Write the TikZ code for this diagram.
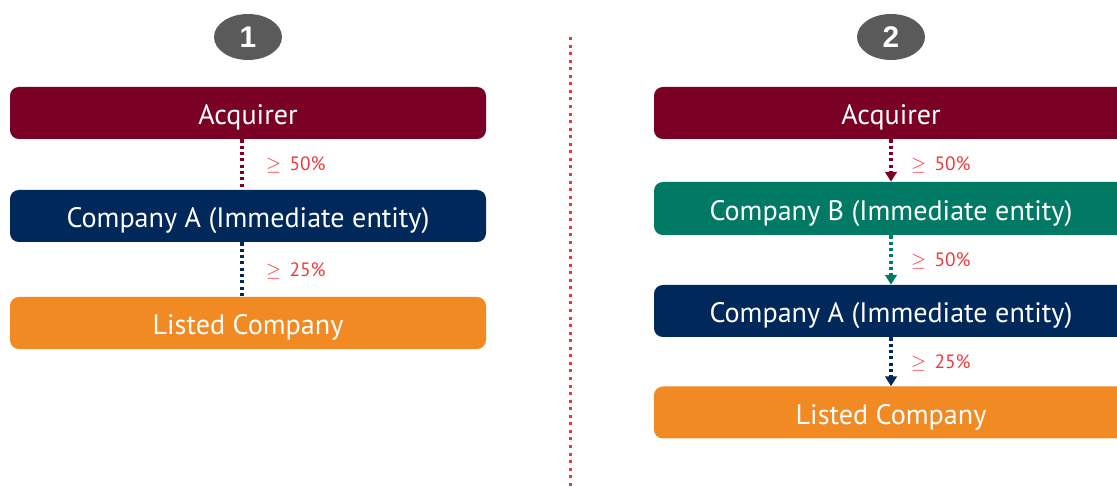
\documentclass[tikz,border=0pt]{standalone}
\usepackage{fontspec}
\setmainfont{PT Sans}
\newfontfamily\badgefont{Liberation Sans}
\usetikzlibrary{shapes.geometric,arrows.meta}
\definecolor{acqred}{HTML}{7A0026}
\definecolor{coblue}{HTML}{00285A}
\definecolor{cogreen}{HTML}{007A64}
\definecolor{listorange}{HTML}{F28A24}
\definecolor{pctred}{HTML}{EE3A3F}
\definecolor{badgegray}{HTML}{5A5A5A}
\definecolor{splitred}{HTML}{F0323C}
\tikzset{
  entity/.style={rounded corners=5pt, minimum height=1.04cm, text=white,
    font=\fontsize{16}{18}\selectfont, inner sep=0pt, text height=13.5pt, text depth=0pt},
  badge/.style={ellipse, fill=badgegray, minimum width=1.36cm, minimum height=0.92cm,
    text=white, font=\badgefont\bfseries\fontsize{17}{20}\selectfont, inner sep=0pt},
  pct/.style={text=pctred, font=\fontsize{11}{12}\selectfont, anchor=west},
  link/.style={line width=1.8pt, dash pattern=on 1.8pt off 1.8pt},
  linkarrow/.style={link, -{Triangle[width=6.5pt,length=5.5pt]}}
}
\begin{document}
\begin{tikzpicture}
  \useasboundingbox (0,0) rectangle (22.34,-9.74);
  %divider
  \coordinate (divtop) at (11.4,-0.74);
  \coordinate (divbot) at (11.4,-9.74);
  \draw[splitred, line width=1.7pt, dash pattern=on 1.7pt off 2.6pt] (divtop) -- (divbot);

  %first structure
  \node[badge] (badge1) at (4.96,-0.74) {1};
  \node[entity, fill=acqred, minimum width=9.52cm] (acq1) at (4.96,-2.26) {Acquirer};
  \node[entity, fill=coblue, minimum width=9.52cm] (coA1) at (4.96,-4.32) {Company A (Immediate entity)};
  \node[entity, fill=listorange, minimum width=9.52cm] (list1) at (4.96,-6.46) {Listed Company};
  \draw[link, acqred] ([xshift=-0.12cm]acq1.south) -- ([xshift=-0.12cm]coA1.north);
  \draw[link, coblue] ([xshift=-0.12cm]coA1.south) -- ([xshift=-0.12cm]list1.north);
  \node[pct] (p1a) at (5.2,-3.3) {$\geq$\ \,50\%};
  \node[pct] (p1b) at (5.2,-5.42) {$\geq$\ \,25\%};

  %second structure
  \node[badge] (badge2) at (17.82,-0.74) {2};
  \node[entity, fill=acqred, minimum width=9.48cm] (acq2) at (17.82,-2.26) {Acquirer};
  \node[entity, fill=cogreen, minimum width=9.48cm, minimum height=1.06cm] (coB2) at (17.82,-4.17) {Company B (Immediate entity)};
  \node[entity, fill=coblue, minimum width=9.48cm] (coA2) at (17.82,-6.22) {Company A (Immediate entity)};
  \node[entity, fill=listorange, minimum width=9.48cm] (list2) at (17.82,-8.25) {Listed Company};
  \draw[linkarrow, acqred] (acq2.south) -- (coB2.north);
  \draw[linkarrow, cogreen] (coB2.south) -- (coA2.north);
  \draw[linkarrow, coblue] (coA2.south) -- (list2.north);
  \node[pct] (p2a) at (18.1,-3.3) {$\geq$\ \,50\%};
  \node[pct] (p2b) at (18.1,-5.22) {$\geq$\ \,50\%};
  \node[pct] (p2c) at (18.1,-7.26) {$\geq$\ \,25\%};
\end{tikzpicture}
\end{document}
